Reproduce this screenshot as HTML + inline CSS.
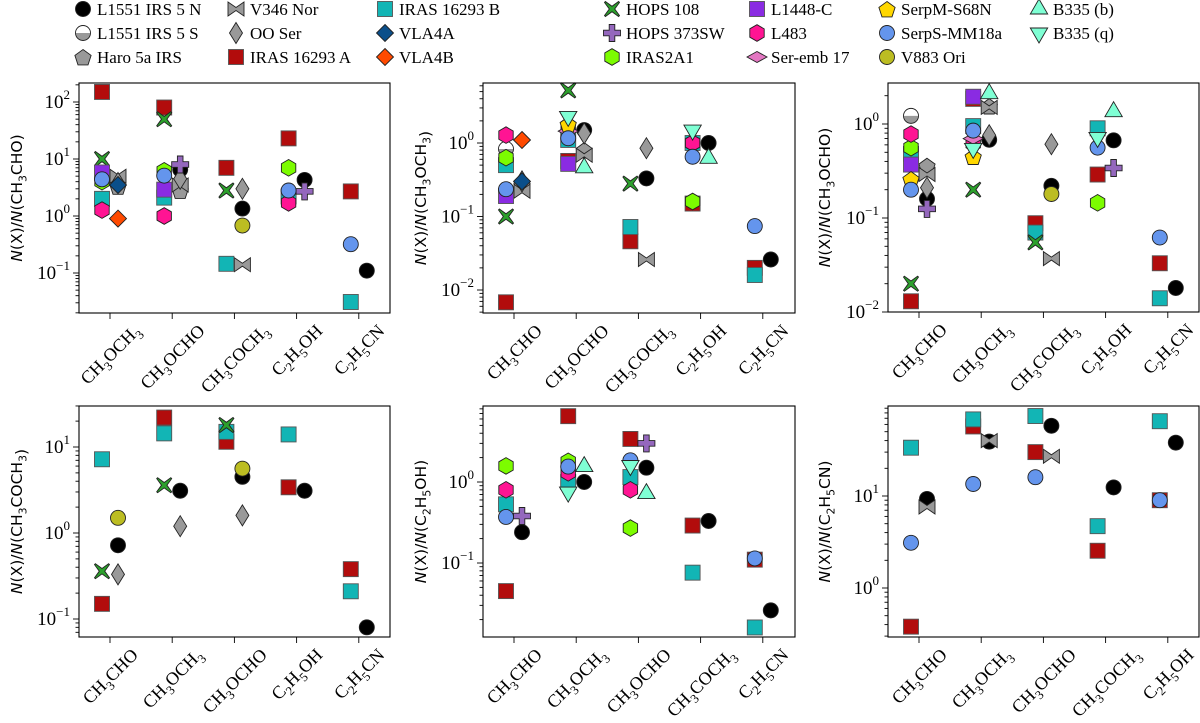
<!DOCTYPE html>
<html><head><meta charset="utf-8"><style>
html,body{margin:0;padding:0;background:#fff;}
svg{display:block;font-family:"Liberation Serif","DejaVu Serif",serif;}
</style></head><body>
<svg id="fig" width="1200" height="723" viewBox="0 0 1200 723" xmlns="http://www.w3.org/2000/svg"></svg>
<script>
// ---- Data: panel categories ----
const p1Cats=["CH3OCH3","CH3OCHO","CH3COCH3","C2H5OH","C2H5CN"];
const p2Cats=["CH3CHO","CH3OCHO","CH3COCH3","C2H5OH","C2H5CN"];
const p3Cats=["CH3CHO","CH3OCH3","CH3COCH3","C2H5OH","C2H5CN"];
const p4Cats=["CH3CHO","CH3OCH3","CH3OCHO","C2H5OH","C2H5CN"];
const p5Cats=["CH3CHO","CH3OCH3","CH3OCHO","CH3COCH3","C2H5CN"];
const p6Cats=["CH3CHO","CH3OCH3","CH3OCHO","CH3COCH3","C2H5OH"];
const yRefs=["CH3CHO","CH3OCH3","CH3OCHO","CH3COCH3","C2H5OH","C2H5CN"];
const p1Ticks=[-1,0,1,2];
const p2Ticks=[-2,-1,0];
const p3Ticks=[-2,-1,0];
const p4Ticks=[-1,0,1];
const p5Ticks=[-1,0];
const p6Ticks=[0,1];
// ---- Panel 1 (ref CH3CHO) ----
const p1_L1551N=[null,6.5,1.35,4.3,0.11];
const p1_Haro=[3.3,2.8,null,null,null];
const p1_V346=[5,3.5,0.14,null,null];
const p1_OOSer=[3.8,4.5,3.0,null,null];
const p1_IRASA=[150,80,7,23,2.7];
const p1_IRASB=[2.0,2.1,0.145,2.2,0.031];
const p1_VLA4A=[3.5,null,null,null,null];
const p1_VLA4B=[0.9,null,null,null,null];
const p1_HOPS108=[10,50,2.8,null,null];
const p1_HOPS373=[null,8,null,2.7,null];
const p1_IRAS2A1=[4,6.2,null,7,null];
const p1_L1448C=[5.8,2.9,null,null,null];
const p1_L483=[1.27,1.0,null,1.7,null];
const p1_SerpS=[4.4,5.1,null,2.8,0.32];
const p1_V883=[null,null,0.68,null,null];
// ---- Panel 2 (ref CH3OCH3) ----
const p2_L1551N=[null,1.5,0.33,1.0,0.026];
const p2_L1551S=[0.83,null,null,null,null];
const p2_Haro=[0.27,0.8,null,null,null];
const p2_V346=[0.22,0.68,0.026,null,null];
const p2_OOSer=[0.3,1.35,0.85,null,null];
const p2_IRASA=[0.0068,0.57,0.046,0.15,0.02];
const p2_IRASB=[0.5,1.1,0.072,1.0,0.016];
const p2_VLA4A=[0.3,null,null,null,null];
const p2_VLA4B=[1.1,null,null,null,null];
const p2_HOPS108=[0.1,5.2,0.28,null,null];
const p2_IRAS2A1=[0.63,null,null,0.16,null];
const p2_L1448C=[0.19,0.52,null,null,null];
const p2_L483=[1.28,1.65,null,1.0,null];
const p2_SerEmb=[null,1.45,null,null,null];
const p2_SerpM=[null,1.8,null,null,null];
const p2_SerpS=[0.235,1.16,null,0.65,0.074];
const p2_B335b=[null,0.46,null,0.62,null];
const p2_B335q=[null,2.3,null,1.5,null];
// ---- Panel 3 (ref CH3OCHO) ----
const p3_L1551N=[0.16,0.68,0.22,0.67,0.018];
const p3_L1551S=[1.22,null,null,null,null];
const p3_Haro=[0.36,1.55,null,null,null];
const p3_V346=[0.29,1.5,0.037,null,null];
const p3_OOSer=[0.21,0.76,0.61,null,null];
const p3_IRASA=[0.013,1.85,0.088,0.29,0.033];
const p3_IRASB=[0.48,0.95,0.07,0.9,0.014];
const p3_HOPS108=[0.02,0.2,0.055,null,null];
const p3_HOPS373=[0.125,null,null,0.34,null];
const p3_IRAS2A1=[0.56,null,null,0.145,null];
const p3_L1448C=[0.37,1.95,null,null,null];
const p3_L483=[0.78,0.62,null,null,null];
const p3_SerEmb=[null,0.7,null,null,null];
const p3_SerpM=[0.26,0.45,null,null,null];
const p3_SerpS=[0.2,0.85,null,0.56,0.062];
const p3_V883=[null,null,0.18,null,null];
const p3_B335b=[null,2.1,null,1.35,null];
const p3_B335q=[null,0.55,null,0.72,null];
// ---- Panel 4 (ref CH3COCH3) ----
const p4_L1551N=[0.72,3.1,4.5,3.1,0.08];
const p4_OOSer=[0.33,1.2,1.6,null,null];
const p4_IRASA=[0.15,22,11.5,3.4,0.38];
const p4_IRASB=[7.2,14.4,15,14,0.21];
const p4_HOPS108=[0.36,3.6,18,null,null];
const p4_V883=[1.5,null,5.6,null,null];
// ---- Panel 5 (ref C2H5OH) ----
const p5_L1551N=[0.24,1.0,1.5,0.33,0.026];
const p5_IRASA=[0.045,6.5,3.4,0.29,0.11];
const p5_IRASB=[0.53,1.0,1.15,0.076,0.016];
const p5_HOPS373=[0.38,null,3.0,null,null];
const p5_IRAS2A1=[1.58,1.8,0.27,null,null];
const p5_L483=[0.8,1.3,0.8,null,null];
const p5_SerpS=[0.37,1.55,1.85,null,0.114];
const p5_B335b=[null,1.55,0.72,null,null];
const p5_B335q=[null,0.75,1.6,null,null];
// ---- Panel 6 (ref C2H5CN) ----
const p6_L1551N=[9.3,39,58,12.4,38];
const p6_V346=[7.6,40,27,null,null];
const p6_IRASA=[0.38,57,30,2.54,9];
const p6_IRASB=[33.5,68,74,4.7,65];
const p6_SerpS=[3.1,13.5,16,null,9];

const NS="http://www.w3.org/2000/svg";
const svg=document.getElementById('fig');
function mk(tag,attrs,parent){const e=document.createElementNS(NS,tag);for(const k in attrs)e.setAttribute(k,attrs[k]);(parent||svg).appendChild(e);return e;}

const SRC=[
 ["L1551N","L1551 IRS 5 N","circle","#000000",1],
 ["L1551S","L1551 IRS 5 S","half","#999999",-1],
 ["Haro","Haro 5a IRS","pent","#999999",1],
 ["V346","V346 Nor","bowtie","#999999",1],
 ["OOSer","OO Ser","thind","#999999",1],
 ["IRASA","IRAS 16293 A","square","#b20c0c",-1],
 ["IRASB","IRAS 16293 B","square","#12b5b5",-1],
 ["VLA4A","VLA4A","diamond","#0b4f8a",1],
 ["VLA4B","VLA4B","diamond","#ff4a00",1],
 ["HOPS108","HOPS 108","x","#2ca02c",-1],
 ["HOPS373","HOPS 373SW","plus","#9467bd",1],
 ["IRAS2A1","IRAS2A1","hex","#7cfc00",-1],
 ["L1448C","L1448-C","square","#8a2be2",-1],
 ["L483","L483","hex","#ff1493",-1],
 ["SerEmb","Ser-emb 17","wided","#e377c2",-1],
 ["SerpM","SerpM-S68N","pent","#ffd700",-1],
 ["SerpS","SerpS-MM18a","circle","#6495ed",-1],
 ["V883","V883 Ori","circle","#bcbd22",1],
 ["B335b","B335 (b)","tup","#7fffd4",1],
 ["B335q","B335 (q)","tdown","#7fffd4",-1]
];
const STY={};SRC.forEach(s=>STY[s[0]]=s);

function poly(pts,cx,cy){return pts.map(p=>(cx+p[0]).toFixed(1)+","+(cy+p[1]).toFixed(1)).join(" ");}
function regpoly(n,r,rot){const a=[];for(let i=0;i<n;i++){const t=rot+i*2*Math.PI/n;a.push([r*Math.cos(t),r*Math.sin(t)]);}return a;}
function marker(g,shape,fill,cx,cy){
 const st={fill:fill,stroke:"#222","stroke-width":0.9};
 let e;
 switch(shape){
  case "circle": e=mk("circle",Object.assign({cx,cy,r:7.5},st),g);break;
  case "half": {const gg=mk("g",{},g);mk("circle",{cx,cy,r:7.5,fill:"#fff"},gg);
   mk("path",{d:`M${cx-7.5},${cy} A7.5,7.5 0 0 0 ${cx+7.5},${cy} Z`,fill:fill},gg);
   mk("circle",{cx,cy,r:7.5,fill:"none",stroke:"#222","stroke-width":0.9},gg);e=gg;break;}
  case "pent": e=mk("polygon",Object.assign({points:poly(regpoly(5,8.5,-Math.PI/2),cx,cy+1)},st),g);break;
  case "hex": e=mk("polygon",Object.assign({points:poly(regpoly(6,8.3,-Math.PI/2),cx,cy)},st),g);break;
  case "bowtie": e=mk("polygon",Object.assign({points:poly([[-8,-7],[0,-1.5],[8,-7],[8,7],[0,1.5],[-8,7]],cx,cy)},st),g);break;
  case "thind": e=mk("polygon",Object.assign({points:poly([[0,-10.5],[6.5,0],[0,10.5],[-6.5,0]],cx,cy)},st),g);break;
  case "diamond": e=mk("polygon",Object.assign({points:poly([[0,-8.5],[8.5,0],[0,8.5],[-8.5,0]],cx,cy)},st),g);break;
  case "wided": e=mk("polygon",Object.assign({points:poly([[-10,0],[0,-5.5],[10,0],[0,5.5]],cx,cy)},st),g);break;
  case "square": e=mk("rect",Object.assign({x:cx-7.5,y:cy-7.5,width:15,height:15},st,{stroke:"#555"}),g);break;
  case "tup": e=mk("polygon",Object.assign({points:poly([[0,-10],[8.7,5],[-8.7,5]],cx,cy)},st),g);break;
  case "tdown": e=mk("polygon",Object.assign({points:poly([[0,10],[8.7,-5],[-8.7,-5]],cx,cy)},st),g);break;
  case "x": {const a=3,b=7.5;e=mk("polygon",Object.assign({points:poly([[-b+a*0.3,-b],[0,-b+a*1.6],[b-a*0.3,-b],[b,-b+a*0.3],[b-a*1.6,0],[b,b-a*0.3],[b-a*0.3,b],[0,b-a*1.6],[-b+a*0.3,b],[-b,b-a*0.3],[-b+a*1.6,0],[-b,-b+a*0.3]],cx,cy)},st),g);break;}
  case "plus": {const a=2.8,b=8.5;e=mk("polygon",Object.assign({points:poly([[-a,-b],[a,-b],[a,-a],[b,-a],[b,a],[a,a],[a,b],[-a,b],[-a,a],[-b,a],[-b,-a],[-a,-a]],cx,cy)},st),g);break;}
 }
 return e;
}

function chemTspans(t,str,size){
 const sub=size*0.7;let down=false;
 for(const ch of str){
  const isD=/[0-9]/.test(ch);
  const ts=mk("tspan",{},t);
  if(isD&&!down){ts.setAttribute("dy",size*0.28);ts.setAttribute("font-size",sub);down=true;}
  else if(isD){ts.setAttribute("font-size",sub);}
  else if(!isD&&down){ts.setAttribute("dy",-size*0.28);down=false;}
  ts.textContent=ch;
 }
}

// ---- Legend ----
const legCols=[83,236,385,612,757,887,1039];
const legRows=[9,33,57];
const leg=mk("g",{});


const legOrder=[["L1551N","L1551S","Haro"],["V346","OOSer","IRASA"],["IRASB","VLA4A","VLA4B"],["HOPS108","HOPS373","IRAS2A1"],["L1448C","L483","SerEmb"],["SerpM","SerpS","V883"],["B335b","B335q"]];
legOrder.forEach((col,ci)=>col.forEach((k,ri)=>{
 const s=STY[k];const g=mk("g",{},leg);
 
 
 marker(g,s[2],s[3],legCols[ci],legRows[ri]);
 const t=mk("text",{x:legCols[ci]+14,y:legRows[ri]+6,"font-size":17,fill:"#000"},g);t.textContent=s[1];
}));

// ---- Panels ----
const panels=[
 {cats:p1Cats,ref:yRefs[0],ticks:p1Ticks,x0:79,x1:390,yt:83,yb:313,y0:216,ppd:57,ylx:22,
  series:[["L1551N",p1_L1551N],["Haro",p1_Haro],["V346",p1_V346],["OOSer",p1_OOSer],["IRASA",p1_IRASA],["IRASB",p1_IRASB],["VLA4A",p1_VLA4A],["VLA4B",p1_VLA4B],["HOPS108",p1_HOPS108],["HOPS373",p1_HOPS373],["IRAS2A1",p1_IRAS2A1],["L1448C",p1_L1448C],["L483",p1_L483],["SerpS",p1_SerpS],["V883",p1_V883]]},
 {cats:p2Cats,ref:yRefs[1],ticks:p2Ticks,x0:483,x1:795,yt:83,yb:313,y0:143,ppd:73.5,ylx:426,
  series:[["L1551N",p2_L1551N],["L1551S",p2_L1551S],["Haro",p2_Haro],["V346",p2_V346],["OOSer",p2_OOSer],["IRASA",p2_IRASA],["IRASB",p2_IRASB],["VLA4A",p2_VLA4A],["VLA4B",p2_VLA4B],["HOPS108",p2_HOPS108],["IRAS2A1",p2_IRAS2A1],["L1448C",p2_L1448C],["L483",p2_L483],["SerEmb",p2_SerEmb],["SerpM",p2_SerpM],["SerpS",p2_SerpS],["B335b",p2_B335b],["B335q",p2_B335q]]},
 {cats:p3Cats,ref:yRefs[2],ticks:p3Ticks,x0:888,x1:1199,yt:83,yb:312,y0:124,ppd:94,ylx:830,
  series:[["L1551N",p3_L1551N],["L1551S",p3_L1551S],["Haro",p3_Haro],["V346",p3_V346],["OOSer",p3_OOSer],["IRASA",p3_IRASA],["IRASB",p3_IRASB],["HOPS108",p3_HOPS108],["HOPS373",p3_HOPS373],["IRAS2A1",p3_IRAS2A1],["L1448C",p3_L1448C],["L483",p3_L483],["SerEmb",p3_SerEmb],["SerpM",p3_SerpM],["SerpS",p3_SerpS],["V883",p3_V883],["B335b",p3_B335b],["B335q",p3_B335q]]},
 {cats:p4Cats,ref:yRefs[3],ticks:p4Ticks,x0:79,x1:390,yt:406,yb:637,y0:533,ppd:86,ylx:22,
  series:[["L1551N",p4_L1551N],["OOSer",p4_OOSer],["IRASA",p4_IRASA],["IRASB",p4_IRASB],["HOPS108",p4_HOPS108],["V883",p4_V883]]},
 {cats:p5Cats,ref:yRefs[4],ticks:p5Ticks,x0:483,x1:795,yt:406,yb:637,y0:482,ppd:81,ylx:426,
  series:[["L1551N",p5_L1551N],["IRASA",p5_IRASA],["IRASB",p5_IRASB],["HOPS373",p5_HOPS373],["IRAS2A1",p5_IRAS2A1],["L483",p5_L483],["SerpS",p5_SerpS],["B335b",p5_B335b],["B335q",p5_B335q]]},
 {cats:p6Cats,ref:yRefs[5],ticks:p6Ticks,x0:888,x1:1199,yt:406,yb:637,y0:588,ppd:92,ylx:830,
  series:[["L1551N",p6_L1551N],["V346",p6_V346],["IRASA",p6_IRASA],["IRASB",p6_IRASB],["SerpS",p6_SerpS]]}
];

panels.forEach((P,pi)=>{
 const g=mk("g",{});
 
 
 const yS=v=>P.y0-Math.log10(v)*P.ppd;
 const xS=i=>P.x0+31+i*62.2;
 const vTop=(P.y0-P.yt)/P.ppd, vBot=(P.y0-P.yb)/P.ppd;
 for(let d=Math.floor(vBot);d<=Math.ceil(vTop);d++){
  for(let k=1;k<10;k++){
   const y=yS(k*Math.pow(10,d));
   if(y<P.yt-0.5||y>P.yb+0.5)continue;
   mk("line",{x1:P.x0,x2:P.x0-(k===1?6:3.5),y1:y,y2:y,stroke:"#000","stroke-width":0.9},g);
  }
 }
 P.ticks.forEach(e=>{
  const y=yS(Math.pow(10,e));
  const t=mk("text",{x:P.x0-9,y:y+6,"text-anchor":"end","font-size":19,fill:"#000"},g);
  
  
  const a=mk("tspan",{},t);a.textContent="10";
  const b=mk("tspan",{dy:-9,"font-size":13},t);b.textContent=(e<0?"\u2212"+(-e):""+e);
 });
 P.cats.forEach((c,i)=>{
  const x=xS(i);
  mk("line",{x1:x,x2:x,y1:P.yb,y2:P.yb+6,stroke:"#000","stroke-width":0.9},g);
  const t=mk("text",{x:0,y:0,"text-anchor":"middle","font-size":18,fill:"#000"},g);
  
  
  chemTspans(t,c,18);
  let L=90;try{L=t.getComputedTextLength();}catch(err){}
  const cy=P.yb+9+(L+18)*0.707/2;
  t.setAttribute("transform",`translate(${x+1} ${cy}) rotate(-45) translate(0 5)`);
 });
 const cy=(P.yt+P.yb)/2;
 const yt=mk("text",{x:P.ylx,y:cy,"text-anchor":"middle","font-size":15.5,fill:"#000","font-family":"DejaVu Sans, Liberation Sans, sans-serif",transform:`rotate(-90 ${P.ylx} ${cy})`},g);
 
 
 let s=mk("tspan",{"font-style":"italic"},yt);s.textContent="N";
 s=mk("tspan",{},yt);s.textContent="(X)/";
 s=mk("tspan",{"font-style":"italic"},yt);s.textContent="N";
 s=mk("tspan",{},yt);s.textContent="(";
 chemTspans(yt,P.ref,15.5);
 s=mk("tspan",{},yt);s.textContent=")";
 P.series.forEach(([k,arr])=>{
  const st=STY[k];
  arr.forEach((v,i)=>{
   if(v==null)return;
   const m=marker(g,st[2],st[3],xS(i)+st[4]*8,yS(v));
   
   
  });
 });
 const fr=mk("rect",{x:P.x0,y:P.yt,width:P.x1-P.x0,height:P.yb-P.yt,fill:"none",stroke:"#000","stroke-width":1.1},g);
 
 
});
</script>
</body></html>
